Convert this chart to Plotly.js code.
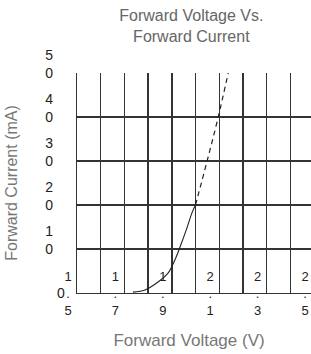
<!DOCTYPE html>
<html>
<head>
<meta charset="utf-8">
<script src="https://cdn.plot.ly/plotly-3.0.1.min.js"></script>
<style>
html,body{margin:0;padding:0;background:#fff;overflow:hidden;}
#chart{width:320px;height:354px;}
</style>
</head>
<body>
<div id="chart"></div>
<script>
// ---- data ----
const xTickLabels = ["1.5", "1.7", "1.9", "2.1", "2.3", "2.5"];
const yTickValues = [0, 10, 20, 30, 40, 50];
const yTickLabels = ["0", "10", "20", "30", "40", "50"];

// measured part of the curve (solid)
const solidVoltage = [1.774, 1.825, 1.880, 1.922, 1.951, 1.973, 2.002, 2.023, 2.038];
const solidCurrent = [0.2, 0.7, 2.5, 4.5, 7.5, 10.5, 14.8, 18.2, 20.0];
// extrapolated part of the curve (dashed)
const dashedVoltage = [2.038, 2.086, 2.133, 2.176];
const dashedCurrent = [20.0, 29.8, 39.8, 50.0];

// ---- layout helpers ----
const gridStart = 1.538, gridStep = 0.1, gridCount = 11;
const stack = s => s.split('').join('<br>');
const xTickVals = [], xTickText = [];
for (let k = 0; k < gridCount; k++) {
  xTickVals.push(gridStart + k * gridStep);
  xTickText.push(k % 2 === 0 ? stack(xTickLabels[k / 2]) : '');
}
const pad = '\u00a0\u00a0\u00a0';
const yTickText = yTickLabels.map(s => s.length === 1
  ? '\u00a0<br>' + s
  : s.split('').map(c => c + pad).join('<br>'));
const nb4 = '<span>\u00a0\u00a0\u00a0\u00a0.</span>';

const lineColor = '#333';
const font = {family: '"Liberation Sans", Arial, sans-serif'};

const traces = [
  {x: solidVoltage, y: solidCurrent, mode: 'lines', type: 'scatter',
   line: {color: '#222', width: 1.1, shape: 'spline'}, hoverinfo: 'skip'},
  {x: dashedVoltage, y: dashedCurrent, mode: 'lines', type: 'scatter',
   line: {color: '#222', width: 1.2, dash: '5px,4px', shape: 'spline'}, hoverinfo: 'skip'}
];

const layout = {
  width: 320, height: 354,
  margin: {l: 77, r: 0, t: 73, b: 61},
  paper_bgcolor: '#fff', plot_bgcolor: '#fff',
  showlegend: false,
  font: font,
  title: {text: 'Forward Voltage Vs.<br>Forward Current',
          font: {size: 16, color: '#666', family: font.family},
          xref: 'container', x: 0.598, xanchor: 'center',
          yref: 'container', y: 0.94, yanchor: 'top'},
  xaxis: {
    range: [gridStart, gridStart + 243 / 237],
    tickmode: 'array', tickvals: xTickVals, ticktext: xTickText,
    ticks: '', ticklabelshift: -9, ticklabelstandoff: -29,
    tickfont: {size: 13, color: '#222', family: font.family},
    showgrid: true, gridcolor: lineColor, gridwidth: 1.4,
    showline: true, linecolor: lineColor, linewidth: 1.4,
    zeroline: false, fixedrange: true,
    title: {text: 'Forward Voltage (V)<span style="color:#fff">\u00a0\u00a0\u00a0\u00a0</span>',
            font: {size: 17, color: '#777', family: font.family}, standoff: 17}
  },
  yaxis: {
    range: [0, 50],
    tickmode: 'array', tickvals: yTickValues, ticktext: yTickText,
    ticks: '', ticklabelshift: -9, ticklabelstandoff: 8,
    tickfont: {size: 14, color: '#222', family: font.family},
    showgrid: true, gridcolor: lineColor, gridwidth: 1.4,
    showline: true, linecolor: lineColor, linewidth: 1.4,
    zeroline: false, fixedrange: true,
    title: {text: 'Forward Current (mA)', font: {size: 16, color: '#777', family: font.family}, standoff: 23}
  }
};

Plotly.newPlot('chart', traces, layout, {staticPlot: true, displayModeBar: false});
</script>
</body>
</html>
